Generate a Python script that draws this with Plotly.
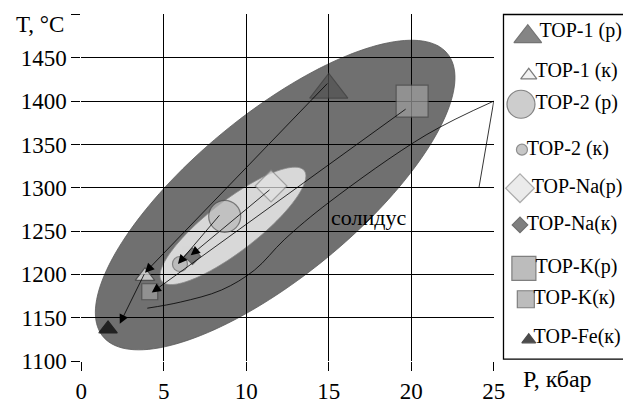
import numpy as np
import plotly.graph_objects as go

# ---------------- data ----------------
series_names = ["TOP-1 (р)", "TOP-1 (к)", "TOP-2 (р)", "TOP-2 (к)", "TOP-Na(р)",
                "TOP-Na(к)", "TOP-K(р)", "TOP-K(к)", "TOP-Fe(к)"]
P_kbar = [15.0, 3.86, 8.69, 5.98, 11.5, 6.74, 20.05, 4.15, 1.62]
T_C = [1413, 1198, 1267, 1212, 1302, 1221, 1400, 1180, 1137]

# arrows (tail -> head), data units
arrow_tail_P = [15.0, 3.86, 19.75, 8.45, 11.5]
arrow_tail_T = [1422, 1202, 1392, 1270, 1299]
arrow_head_P = [3.86, 2.33, 4.27, 5.86, 6.63]
arrow_head_T = [1202, 1143, 1179, 1212, 1222]

# solidus curve and the short line at high pressure
sol_P = [4.0, 6.0, 8.5, 10.5, 12.3, 15.0, 20.9, 25.0]
sol_T = [1161, 1168, 1182, 1205, 1240, 1283, 1361, 1400]
side_P = [25.0, 24.1]
side_T = [1400, 1300]

# fields (ellipses): centre, major half-vector, minor half-vector (data units)
outer_field = dict(c=(11.75, 1291.6), a=(10.43, 163.5), b=(-3.16, 72.1))
inner_field = dict(c=(9.19, 1256.0), a=(4.32, 63.8), b=(-0.94, 22.8))

x_ticks = [0, 5, 10, 15, 20, 25]
y_ticks = [1100, 1150, 1200, 1250, 1300, 1350, 1400, 1450, 1500]
y_ticktext = ["1100", "1150", "1200", "1250", "1300", "1350", "1400", "1450", ""]

# ---------------- styles / layout ----------------
W, H = 635, 404
FONT = "Liberation Serif, Times New Roman, serif"
sym = ["triangle-up", "triangle-up", "circle", "circle", "diamond",
       "diamond", "square", "square", "triangle-up"]
size = [33, 17, 32, 15, 24.5, 12.5, 32, 16, 16]
fill = ["#525252", "#ececec", "#b8b8b8", "#b0b0b0", "#e3e3e3",
        "#4a4a4a", "#a0a0a0", "#a0a0a0", "#000000"]
edge = ["#3a3a3a", "#444444", "#505050", "#606060", "#8a8a8a",
        "#333333", "#4a4a4a", "#4a4a4a", "#000000"]
# legend rows (pixel positions inside the legend box)
leg_size = [24, 14, 28, 11, 22, 12, 24, 17, 12]
leg_mx = [537, 538, 530, 531, 529, 529, 533, 535, 538]
leg_my = [38, 78, 108, 155, 195, 233, 278, 310, 352]
leg_tx = [549, 545, 545, 536, 541, 536, 545, 543, 543]
leg_ty = [33, 75, 108, 155, 195, 233, 278, 310, 350]


def ellipse_path(f, n=160):
    t = np.linspace(0, 2 * np.pi, n)
    xs = f["c"][0] + np.cos(t) * f["a"][0] + np.sin(t) * f["b"][0]
    ys = f["c"][1] + np.cos(t) * f["a"][1] + np.sin(t) * f["b"][1]
    return "M " + " L ".join(f"{x:.4f},{y:.3f}" for x, y in zip(xs, ys)) + " Z"


fig = go.Figure()

fig.add_trace(go.Scatter(x=sol_P, y=sol_T, mode="lines", line=dict(color="black", width=0.8),
                         line_shape="spline", showlegend=False, hoverinfo="skip"))
fig.add_trace(go.Scatter(x=side_P, y=side_T, mode="lines", line=dict(color="black", width=0.8),
                         showlegend=False, hoverinfo="skip"))

fig.add_trace(go.Scatter(x=P_kbar, y=T_C, mode="markers", showlegend=False,
                         marker=dict(symbol=sym, size=size, color=fill,
                                     line=dict(color=edge, width=1.2))))

annotations = []
for tx, ty, hx, hy in zip(arrow_tail_P, arrow_tail_T, arrow_head_P, arrow_head_T):
    annotations.append(dict(x=hx, y=hy, ax=tx, ay=ty, xref="x", yref="y", axref="x", ayref="y",
                            showarrow=True, arrowhead=2, arrowsize=2.3, arrowwidth=0.8,
                            arrowcolor="black", standoff=0, text=""))

annotations.append(dict(x=17.4, y=1266, xref="x", yref="y", text="солидус", showarrow=False,
                        font=dict(family=FONT, size=22, color="black")))
annotations.append(dict(x=62, y=25, xref="x2", yref="y2", text="T, °C", showarrow=False,
                        xanchor="right", yanchor="middle",
                        font=dict(family=FONT, size=23, color="black")))
annotations.append(dict(x=530, y=393, xref="x2", yref="y2", text="P, кбар", showarrow=False,
                        xanchor="left", yanchor="middle",
                        font=dict(family=FONT, size=24, color="black")))

fig.add_trace(go.Scatter(x=leg_mx, y=leg_my, xaxis="x2", yaxis="y2", mode="markers",
                         showlegend=False, hoverinfo="skip",
                         marker=dict(symbol=sym, size=leg_size, color=fill,
                                     line=dict(color=edge, width=1.2))))
fig.add_trace(go.Scatter(x=leg_tx, y=leg_ty, xaxis="x2", yaxis="y2", mode="text",
                         text=series_names, textposition="middle right",
                         textfont=dict(family=FONT, size=20, color="black"),
                         showlegend=False, hoverinfo="skip"))

shapes = [
    dict(type="path", path=ellipse_path(outer_field), xref="x", yref="y", layer="below",
         fillcolor="#707070", line=dict(color="#5a5a5a", width=0.8)),
    dict(type="path", path=ellipse_path(inner_field), xref="x", yref="y", layer="below",
         fillcolor="#d8d8d8", line=dict(color="#8a8a8a", width=0.8)),
    dict(type="path", xref="x2", yref="y2", path="M 636,15 L 512,15 L 512,372 L 636,372",
         line=dict(color="black", width=1.3)),
]

fig.update_layout(
    width=W, height=H, margin=dict(l=0, r=0, t=0, b=0),
    paper_bgcolor="white", plot_bgcolor="rgba(0,0,0,0)",
    shapes=shapes, annotations=annotations,
    xaxis=dict(domain=[77.5 / W, 502 / W], range=[0, 25], tickvals=x_ticks,
               showgrid=True, gridcolor="black", gridwidth=1.3, zeroline=False,
               ticks="outside", ticklen=9, tickwidth=1.3, tickcolor="black",
               showline=False, tickfont=dict(family=FONT, size=23, color="black"),
               anchor="y", fixedrange=True),
    yaxis=dict(domain=[30 / H, 389 / H], range=[1100, 1500], tickvals=y_ticks,
               ticktext=y_ticktext,
               showgrid=True, gridcolor="black", gridwidth=1.3, zeroline=False,
               ticks="outside", ticklen=9, tickwidth=1.3, tickcolor="black",
               showline=False, tickfont=dict(family=FONT, size=23, color="black"),
               anchor="x", fixedrange=True),
    xaxis2=dict(domain=[0, 1], range=[0, W], visible=False, anchor="y2", fixedrange=True),
    yaxis2=dict(domain=[0, 1], range=[H, 0], visible=False, anchor="x2", fixedrange=True),
    showlegend=False,
)

fig.write_html("out.html", config={"displayModeBar": False})
